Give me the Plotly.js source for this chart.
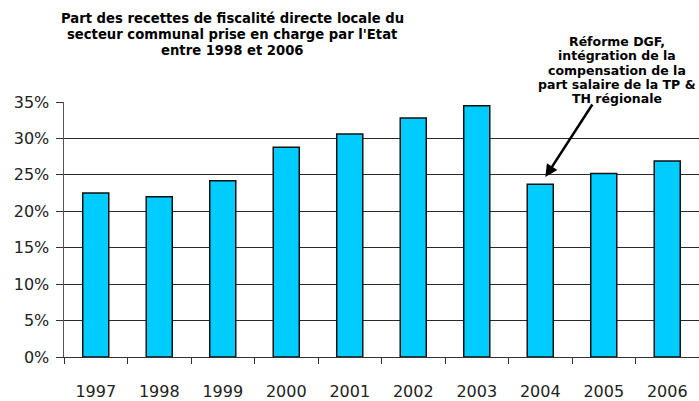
<!DOCTYPE html>
<html>
<head>
<meta charset="utf-8">
<script src="https://cdn.plot.ly/plotly-3.0.1.min.js"></script>
<style>html,body{margin:0;padding:0;background:#fff}#chart{width:699px;height:401px}</style>
</head>
<body>
<div id="chart"></div>
<script>
var years = ['1997','1998','1999','2000','2001','2002','2003','2004','2005','2006'];
var shares = [0.225, 0.220, 0.242, 0.288, 0.306, 0.328, 0.345, 0.237, 0.252, 0.269];
var yTicks = [0, 0.05, 0.10, 0.15, 0.20, 0.25, 0.30, 0.35];
var titleLines = ["Part des recettes de fiscalité directe locale du",
                  "secteur communal prise en charge par l'Etat",
                  "entre 1998 et 2006"];
var noteLines = ["Réforme DGF,", "intégration de la", "compensation de la",
                 "part salaire de la TP &", "TH régionale"];

var PL = 64, PW = 635, PB = 357, PH = 255;
function px2x(px){ return (px - PL) / PW; }
function py2y(py){ return (PB - py) / PH; }

var trace = {
  type: 'bar',
  x: years,
  y: shares,
  width: 0.41,
  marker: {color: '#00CCFF', line: {color: '#111', width: 1.5}},
  hoverinfo: 'skip'
};

var annotations = [];
titleLines.forEach(function(t, i){
  annotations.push({
    xref: 'paper', yref: 'paper', x: px2x(232), y: py2y(18 + 16*i),
    xanchor: 'center', yanchor: 'middle', showarrow: false, text: t,
    font: {family: 'DejaVu Sans, sans-serif', size: 13.2, color: '#000', weight: 'bold'}
  });
});
noteLines.forEach(function(t, i){
  annotations.push({
    xref: 'paper', yref: 'paper', x: px2x(617), y: py2y(42 + 14*i),
    xanchor: 'center', yanchor: 'middle', showarrow: false, text: t,
    font: {family: 'DejaVu Sans, sans-serif', size: 12.5, color: '#000', weight: 'bold'}
  });
});
annotations.push({
  xref: 'x', yref: 'y',
  x: 7.08, y: 0.247,
  ax: 48, ay: -74,
  text: '', showarrow: true,
  arrowhead: 2, arrowsize: 1, arrowwidth: 2.5, arrowcolor: '#000'
});

var layout = {
  width: 699, height: 401,
  margin: {l: PL, r: 0, t: 102, b: 44},
  paper_bgcolor: '#fff', plot_bgcolor: '#fff',
  showlegend: false,
  font: {family: 'DejaVu Sans, sans-serif', color: '#222', size: 16},
  xaxis: {
    type: 'category',
    showgrid: false,
    ticks: 'outside', tickson: 'boundaries', ticklen: 6, tickcolor: '#333', tickwidth: 1,
    showline: true, linecolor: '#333', linewidth: 1,
    tickfont: {size: 16, color: '#222'},
    ticklabelstandoff: 20
  },
  yaxis: {
    range: [0, 0.35],
    tickvals: yTicks,
    tickformat: '.0%',
    showgrid: true, gridcolor: '#2a2a2a', gridwidth: 1,
    zeroline: false,
    ticks: 'outside', ticklen: 7, tickcolor: '#333',
    showline: true, linecolor: '#555', linewidth: 1.5,
    tickfont: {size: 16, color: '#222'},
    ticklabelstandoff: 3
  },
  annotations: annotations
};

Plotly.newPlot('chart', [trace], layout, {displayModeBar: false, staticPlot: true});
</script>
</body>
</html>
